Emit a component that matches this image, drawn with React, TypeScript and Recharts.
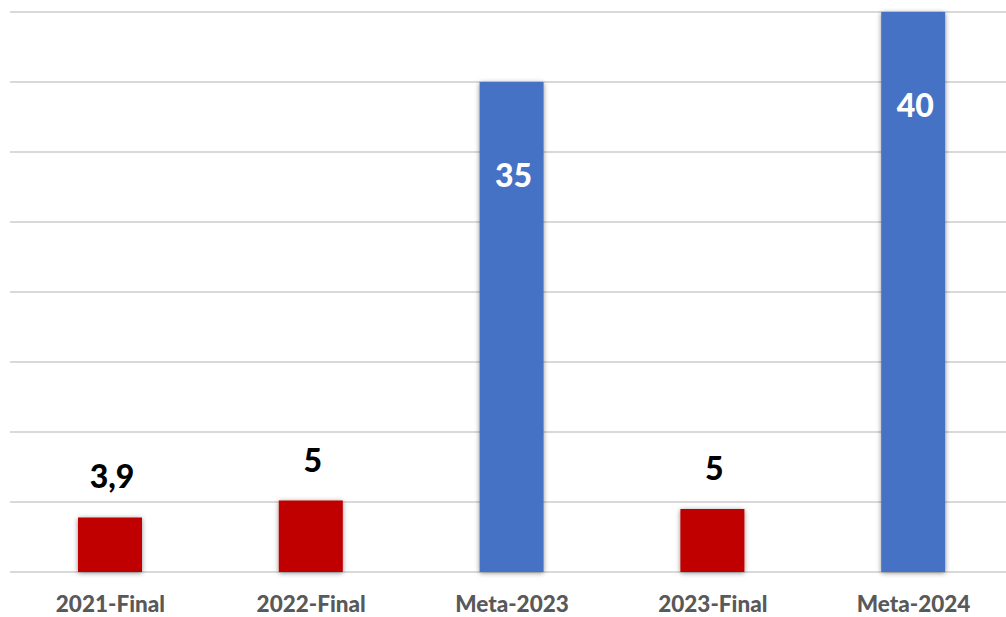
import React from "react";
import { BarChart, Bar, XAxis, YAxis, CartesianGrid, Cell, LabelList } from "recharts";

const categories = ["2021-Final", "2022-Final", "Meta-2023", "2023-Final", "Meta-2024"];
const values = [3.9, 5.1, 35, 4.5, 40];
const valueLabels = ["3,9", "5", "35", "5", "40"];
const kinds = ["final", "final", "meta", "final", "meta"];
const yTicks = [0, 5, 10, 15, 20, 25, 30, 35, 40];

const RED = "#C00000";
const BLUE = "#4472C4";
const FONT = "Lato, 'Open Sans', sans-serif";

const data = categories.map((c, i) => ({
  name: c,
  value: values[i],
  label: valueLabels[i],
  kind: kinds[i],
}));

const ValueLabel = (props: any) => {
  const { x, y, width, index } = props;
  const d = data[index];
  const cx = x + width / 2 + 2;
  if (d.kind === "meta") {
    return (
      <text x={cx} y={y + 105} textAnchor="middle" fill="#ffffff" fontFamily={FONT} fontWeight={900} fontSize={32}>
        {d.label}
      </text>
    );
  }
  return (
    <text x={cx} y={y - 29} textAnchor="middle" fill="#000000" fontFamily={FONT} fontWeight={900} fontSize={32}>
      {d.label}
    </text>
  );
};

const Tick = (props: any) => {
  const { x, payload } = props;
  return (
    <text x={x} y={612} textAnchor="middle" fill="#595959" fontFamily={FONT} fontWeight={900} fontSize={22.5}>
      {payload.value}
    </text>
  );
};

export default function App() {
  return (
    <div style={{ position: "fixed", left: 0, top: 0, width: 1006, height: 617, overflow: "hidden", background: "#ffffff" }}>
      <BarChart width={1014} height={617} data={data} margin={{ top: 12, right: 0, bottom: 0, left: 10 }}>
        <defs>
          <filter id="barShadow" x="-30%" y="-10%" width="160%" height="120%">
            <feDropShadow dx="0" dy="1" stdDeviation="2.5" floodColor="#000000" floodOpacity="0.45" />
          </filter>
        </defs>
        <CartesianGrid vertical={false} stroke="#d9d9d9" strokeWidth={2} />
        <XAxis dataKey="name" height={45} tick={<Tick />} tickLine={false} axisLine={false} interval={0} />
        <YAxis hide domain={[0, 40]} ticks={yTicks} />
        <Bar dataKey="value" barSize={64} isAnimationActive={false} style={{ filter: "url(#barShadow)" }}>
          {data.map((d, i) => (
            <Cell key={i} fill={d.kind === "meta" ? BLUE : RED} />
          ))}
          <LabelList dataKey="label" content={<ValueLabel />} />
        </Bar>
      </BarChart>
    </div>
  );
}
